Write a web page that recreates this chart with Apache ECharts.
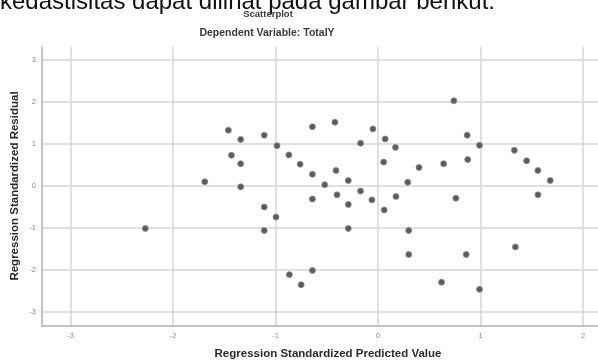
<!DOCTYPE html>
<html>
<head>
<meta charset="utf-8">
<script src="https://cdn.jsdelivr.net/npm/echarts@6/dist/echarts.min.js"></script>
<style>html,body{margin:0;padding:0;background:#fff}#c{width:598px;height:363px}</style>
</head>
<body>
<div id="c"></div>
<script>
const predicted = [-2.27, -1.69, -1.46, -1.34, -1.11, -0.985, -1.43, -1.34, -1.34, -1.11, -0.995, -1.11,
  -0.64, -0.42, -0.05, -0.17, 0.07, 0.17, -0.87, -0.76, -0.64, -0.41, -0.29, -0.52, 0.055, 0.40, 0.29,
  -0.17, -0.06, -0.40, -0.64, -0.29, 0.175, 0.06, -0.29, 0.30, 0.30, -0.865, -0.64, -0.75,
  0.74, 0.87, 0.99, 1.33, 1.45, 1.56, 1.68, 1.56, 0.875, 0.64, 0.76, 0.86, 1.34, 0.62, 0.99];
const residual = [-1.01, 0.10, 1.33, 1.11, 1.21, 0.96, 0.73, 0.53, -0.02, -0.50, -0.74, -1.06,
  1.41, 1.52, 1.36, 1.02, 1.12, 0.92, 0.74, 0.52, 0.28, 0.37, 0.13, 0.03, 0.57, 0.44, 0.09,
  -0.12, -0.33, -0.21, -0.31, -0.44, -0.25, -0.57, -1.01, -1.06, -1.63, -2.11, -2.01, -2.35,
  2.03, 1.21, 0.97, 0.85, 0.60, 0.37, 0.13, -0.21, 0.63, 0.53, -0.29, -1.63, -1.45, -2.29, -2.46];
const xTicks = [-3, -2, -1, 0, 1, 2];
const yTicks = [-3, -2, -1, 0, 1, 2, 3];
const chartTitle = 'Scatterplot';
const chartSubtitle = 'Dependent Variable: TotalY';
const xName = 'Regression Standardized Predicted Value';
const yName = 'Regression Standardized Residual';
const topText = 'kedastisitas dapat dilihat pada gambar berikut.';

const points = predicted.map((x, i) => [x, residual[i]]);
const chart = echarts.init(document.getElementById('c'), null, {renderer: 'canvas'});
const labelStyle = {color: '#8a8a8a', fontSize: 7.5, fontFamily: 'Liberation Sans'};
chart.setOption({
  animation: false,
  backgroundColor: '#fff',
  graphic: [
    {type: 'text', left: 0, top: -10, style: {text: topText, font: '24px "Liberation Sans"', fill: '#111'}},
    {type: 'text', x: 268, y: 14, style: {text: chartTitle, font: 'bold 9.5px "Liberation Sans"', fill: '#3a3a3a', align: 'center', verticalAlign: 'middle'}},
    {type: 'text', x: 267, y: 33, style: {text: chartSubtitle, font: 'bold 10.5px "Liberation Sans"', fill: '#3a3a3a', align: 'center', verticalAlign: 'middle'}},
    {type: 'text', x: 328, y: 354, style: {text: xName, font: 'bold 11.5px "Liberation Sans"', fill: '#2a2a2a', align: 'center', verticalAlign: 'middle'}},
    {type: 'text', x: 15, y: 186, rotation: Math.PI / 2, style: {text: yName, font: 'bold 11.5px "Liberation Sans"', fill: '#2a2a2a', align: 'center', verticalAlign: 'middle'}}
  ],
  grid: {left: 42, top: 47, right: 0, bottom: 37, containLabel: false},
  xAxis: {
    type: 'value', min: -3.278, max: 2.146,
    axisLine: {show: true, onZero: false, lineStyle: {color: '#b0b0b0', width: 1.5}},
    axisTick: {show: false, customValues: xTicks},
    axisLabel: {customValues: xTicks, margin: 6, ...labelStyle},
    splitLine: {show: true, lineStyle: {color: '#d6d6d6', width: 1.5}}
  },
  yAxis: {
    type: 'value', min: -3.333, max: 3.31,
    axisLine: {show: true, onZero: false, lineStyle: {color: '#b0b0b0', width: 1.5}},
    axisTick: {show: false, customValues: yTicks},
    axisLabel: {customValues: yTicks, margin: 6, ...labelStyle},
    splitLine: {show: true, lineStyle: {color: '#d6d6d6', width: 1.5}}
  },
  series: [{
    type: 'scatter',
    data: points,
    symbol: 'circle',
    symbolSize: 6,
    itemStyle: {color: '#5c5c5c', borderColor: '#8a8a8a', borderWidth: 0.8, opacity: 1}
  }]
});
</script>
</body>
</html>
